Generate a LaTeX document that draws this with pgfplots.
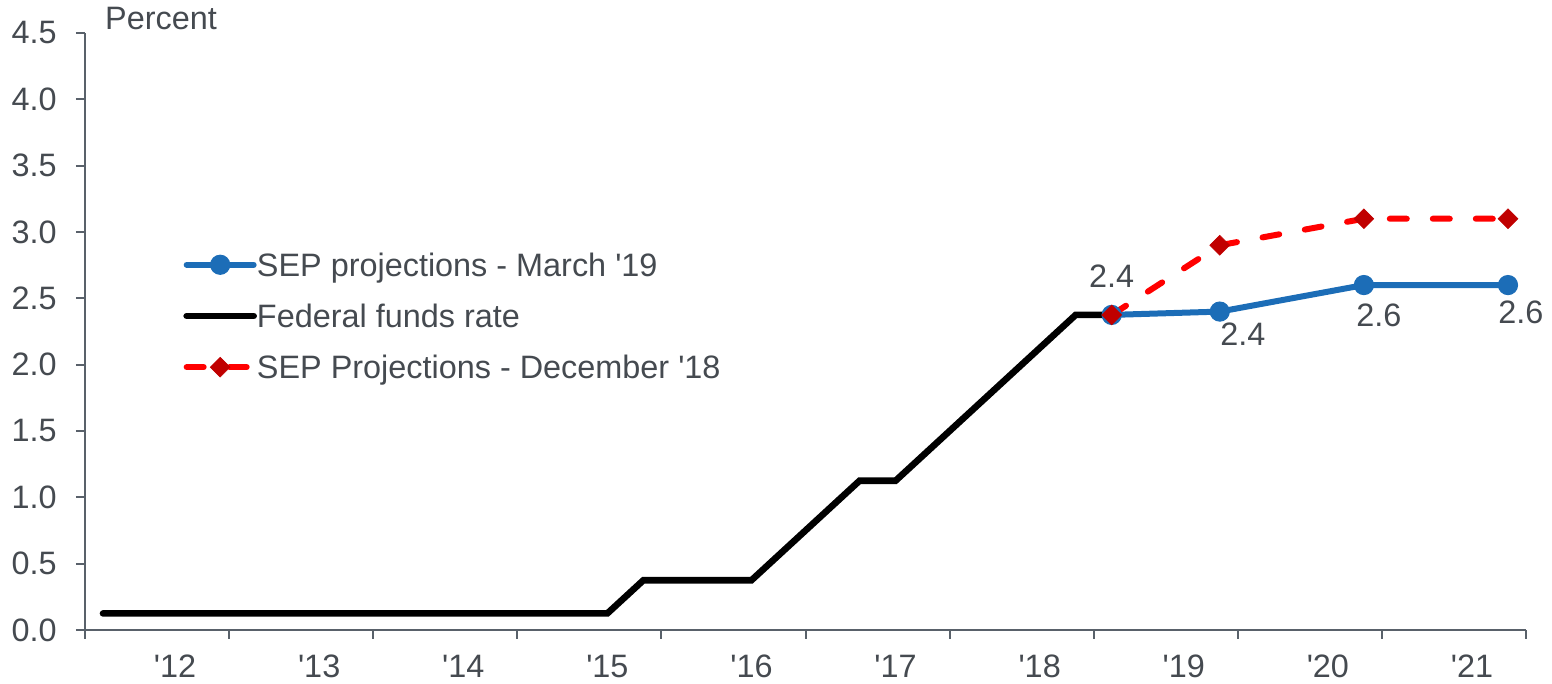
\documentclass[border=0pt]{standalone}
\usepackage{fontspec}
\setmainfont{Liberation Sans}
\usepackage{pgfplots}
\pgfplotsset{compat=1.18}
\definecolor{axisgray}{HTML}{59616A}
\definecolor{txtgray}{HTML}{454A50}
\definecolor{sepblue}{HTML}{1C6DB7}
\definecolor{sepred}{HTML}{FF0000}
\definecolor{sepdark}{HTML}{C00000}
\newcommand{\q}{\textquotesingle}

\begin{document}
\fontsize{16.2}{19}\selectfont
\begin{tikzpicture}
\useasboundingbox (-42.5pt,-27pt) rectangle (733.5pt,315pt);
\begin{axis}[
  at={(0pt,0pt)}, anchor=south west,
  scale only axis, width=720.5pt, height=298.5pt,
  xmin=-0.5, xmax=39.5, ymin=0, ymax=4.5,
  axis x line=bottom, axis y line=left,
  axis line style={-, draw=axisgray, line width=1pt},
  tick align=outside, major tick length=4.5pt,
  tick style={draw=axisgray, line width=1pt},
  xtick={-0.5,3.5,...,39.5}, xticklabels={},
  extra x ticks={2,6,...,38},
  extra x tick labels={\q12,\q13,\q14,\q15,\q16,\q17,\q18,\q19,\q20,\q21},
  extra x tick style={major tick length=0pt,
    xticklabel style={anchor=base, yshift=-24pt}},
  ytick={0,0.5,...,4.5},
  ticklabel style={text=txtgray, inner sep=0pt},
  yticklabel style={anchor=east, xshift=-9.5pt},
  clip=false,
  legend cell align=left,
  legend style={draw=none, fill=none, at={(0.068,0.526)}, anchor=west,
    inner sep=0pt, row sep=7.6pt, column sep=0pt,
    nodes={inner sep=0pt, text=txtgray, text height=14.8pt, text depth=3.2pt}},
  legend image code/.code={\draw[mark repeat=2, mark phase=2]
    plot coordinates {(0pt,0pt) (16.75pt,0pt) (33.5pt,0pt)};},
  yticklabel style={/pgf/number format/.cd, fixed, fixed zerofill, precision=1, assume math mode=true},
]
% SEP March '19
\addplot[sepblue, line width=3pt, line cap=round, mark=*,
  mark options={line width=0.5pt, fill=sepblue}, mark size=4.8pt]
  coordinates {(28,2.375) (31,2.4) (35,2.6) (39,2.6)};
\addlegendentry{SEP projections - March \q19}
% fed funds, quarterly
\addplot[black, line width=3.3pt, line cap=round, mark=none] coordinates {
  (0,0.125) (1,0.125) (2,0.125) (3,0.125) (4,0.125) (5,0.125) (6,0.125)
  (7,0.125) (8,0.125) (9,0.125) (10,0.125) (11,0.125) (12,0.125) (13,0.125)
  (14,0.125) (15,0.375) (16,0.375) (17,0.375) (18,0.375) (19,0.625)
  (20,0.875) (21,1.125) (22,1.125) (23,1.375) (24,1.625) (25,1.875)
  (26,2.125) (27,2.375) (28,2.375)};
\addlegendentry{Federal funds rate}
% SEP December '18
\addplot[sepred, line width=3pt, line cap=round, dash pattern=on 8.5pt off 13pt,
  mark=square*, mark size=3.5pt,
  mark options={solid, rotate=45, fill=sepdark, draw=sepdark, line width=0.3pt}]
  coordinates {(28,2.375) (31,2.9) (35,3.1) (39,3.1)};
\addlegendentry{SEP Projections - December \q18}

\node[txtgray, inner sep=0pt, yshift=19.5pt] at (axis cs:28,2.375) {2.4};
\node[txtgray, inner sep=0pt, xshift=11.5pt, yshift=-11.5pt] at (axis cs:31,2.4) {2.4};
\node[txtgray, inner sep=0pt, xshift=7.5pt, yshift=-15pt] at (axis cs:35,2.6) {2.6};
\node[txtgray, inner sep=0pt, xshift=6.5pt, yshift=-13.5pt] at (axis cs:39,2.6) {2.6};
\end{axis}
\node[txtgray, inner sep=0pt] at (38pt,305.5pt) {Percent};
\end{tikzpicture}
\end{document}
